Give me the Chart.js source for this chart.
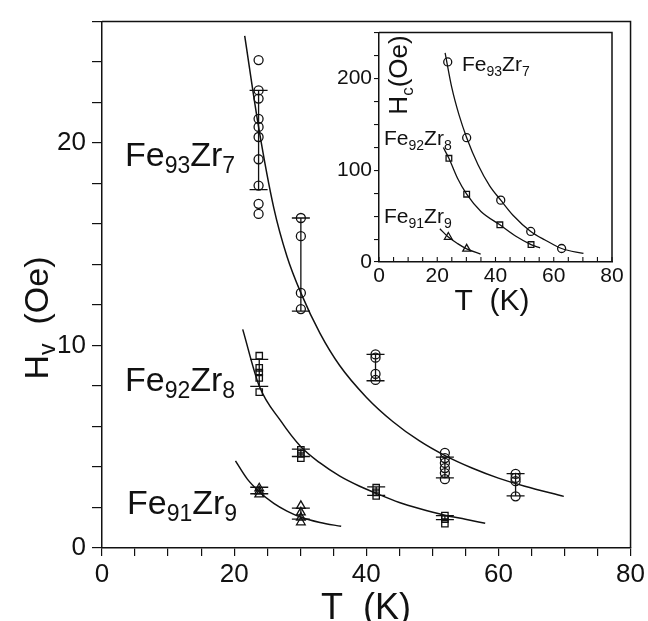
<!DOCTYPE html>
<html><head><meta charset="utf-8">
<script src="https://cdn.jsdelivr.net/npm/chart.js@4/dist/chart.umd.min.js"></script>
<style>
html,body{margin:0;padding:0;background:#fff;}
#wrap{position:relative;width:648px;height:621px;overflow:hidden;}
#main{position:absolute;left:0;top:0;}
#inset{position:absolute;left:330px;top:18px;}
</style></head><body>
<div id="wrap"><canvas id="main" width="648" height="621"></canvas><canvas id="inset" width="310" height="305"></canvas></div>
<script>
// ===== Main panel data: H_v (Oe) vs T (K) =====
const fe93Temps = [23.7, 30.1, 41.4, 51.9, 62.6];
const fe93Hv = [[24.1,22.6,22.2,21.2,20.8,20.3,19.2,17.9,17.0,16.5],[16.3,15.4,12.6,11.8],[9.56,9.4,8.6,8.3],[4.7,4.44,4.2,3.95,3.7,3.4],[3.66,3.46,3.3,2.55]];
const fe93ErrLo = [17.7, 11.7, 8.26, 3.46, 2.57];
const fe93ErrHi = [22.6, 16.3, 9.56, 4.49, 3.67];
const fe93CurveT = [21.6, 23.7, 26, 28, 30.1, 33, 36, 40, 44, 48, 52, 56, 60, 64, 69.9];
const fe93CurveH = [25.3, 20.8, 16.8, 14.4, 12.6, 10.6, 9.0, 7.45, 6.25, 5.3, 4.55, 3.95, 3.45, 3.05, 2.55];

const fe92Temps = [23.8, 30.1, 41.5, 51.9];
const fe92Hv = [[9.5,8.9,8.67,8.4,7.7],[4.85,4.65,4.44],[2.98,2.75,2.57],[1.6,1.43,1.2]];
const fe92ErrLo = [7.98, 4.52, 2.6, 1.4];
const fe92ErrHi = [9.32, 4.88, 3.02, 1.6];
const fe92CurveT = [21.3, 23.8, 27, 30.1, 33, 36, 39, 41.5, 45, 48, 51.9, 55, 58];
const fe92CurveH = [10.8, 8.0, 6.3, 5.0, 4.2, 3.55, 3.05, 2.7, 2.25, 1.95, 1.62, 1.42, 1.22];

const fe91Temps = [23.8, 30.1];
const fe91Hv = [[2.95,2.8,2.65],[2.08,1.76,1.5,1.27]];
const fe91ErrLo = [2.68, 1.43];
const fe91ErrHi = [3.0, 1.97];
const fe91CurveT = [20.2, 22, 23.8, 26, 28, 30.1, 33, 36.2];
const fe91CurveH = [4.3, 3.4, 2.78, 2.2, 1.82, 1.52, 1.26, 1.07];

// ===== Inset data: H_c (Oe) vs T (K) =====
const inFe93T = [23.6, 30.1, 41.8, 52.1, 62.7];
const inFe93Hc = [218, 135.5, 67.4, 33.3, 14.7];
const inFe93CurveT = [22.7, 25, 27.5, 30.1, 34, 38, 41.8, 46, 52.1, 57, 62.7, 70.2];
const inFe93CurveH = [228, 190, 160, 135.5, 106, 83, 67.4, 51, 33.3, 24, 14.7, 9.3];
const inFe92T = [24.0, 30.1, 41.5, 52.2];
const inFe92Hc = [113, 73.9, 40.5, 19.0];
const inFe92CurveT = [22.1, 24.0, 27, 30.1, 35, 41.5, 47, 52.2, 55.3];
const inFe92CurveH = [124.7, 113, 91, 73.9, 55, 40.5, 28, 19.0, 15.4];
const inFe91T = [23.8, 30.1];
const inFe91Hc = [27.2, 14.3];
const inFe91CurveT = [20.9, 23.8, 27, 30.1, 34.9];
const inFe91CurveH = [36.2, 27.2, 20, 14.3, 8.6];

// ===== helpers =====
const FONT = '"Liberation Sans", Arial, sans-serif';
Chart.defaults.font.family = FONT;
Chart.defaults.color = '#111';

function groupPoints(temps, vals) {
  const pts = [];
  temps.forEach((t, i) => vals[i].forEach(v => pts.push({x: t, y: v})));
  return pts;
}
function zipPts(xs, ys) { return xs.map((x, i) => ({x: x, y: ys[i]})); }

function markerDs(data, style, r) {
  return {data: data, showLine: false, pointStyle: style, pointRadius: r, pointHoverRadius: r,
    pointBorderWidth: 1.3, pointBorderColor: '#111', pointBackgroundColor: 'rgba(0,0,0,0)', order: 1};
}
function curveDs(data, w) {
  return {data: data, showLine: true, pointRadius: 0, borderColor: '#111', borderWidth: w,
    cubicInterpolationMode: 'monotone', fill: false, order: 2};
}

function drawRich(ctx, parts, x, y, size, subSize, subDrop) {
  let cx = x;
  parts.forEach(p => {
    const sz = p[1] ? subSize : size;
    ctx.font = sz + 'px ' + FONT;
    ctx.fillText(p[0], cx, y + (p[1] ? subDrop : 0));
    cx += ctx.measureText(p[0]).width;
  });
  return cx - x;
}
function richWidth(ctx, parts, size, subSize) {
  let w = 0;
  parts.forEach(p => { ctx.font = (p[1] ? subSize : size) + 'px ' + FONT; w += ctx.measureText(p[0]).width; });
  return w;
}

const errorBarPlugin = {
  id: 'errbars',
  afterDatasetsDraw(chart, args, opts) {
    if (!opts.groups) return;
    const ctx = chart.ctx, xs = chart.scales.x, ys = chart.scales.y;
    ctx.save();
    ctx.strokeStyle = '#111';
    ctx.lineWidth = 1.3;
    opts.groups.forEach(g => {
      g.temps.forEach((t, i) => {
        const px = xs.getPixelForValue(t);
        const p1 = ys.getPixelForValue(g.lo[i]);
        const p2 = ys.getPixelForValue(g.hi[i]);
        ctx.beginPath();
        ctx.moveTo(px, p1); ctx.lineTo(px, p2);
        ctx.moveTo(px - 9, p1); ctx.lineTo(px + 9, p1);
        ctx.moveTo(px - 9, p2); ctx.lineTo(px + 9, p2);
        ctx.stroke();
      });
    });
    ctx.restore();
  }
};

const frameMain = {
  id: 'frameMain',
  afterDraw(chart) {
    const ctx = chart.ctx, a = chart.chartArea;
    ctx.save();
    ctx.strokeStyle = '#111'; ctx.lineWidth = 1.5;
    ctx.beginPath();
    ctx.moveTo(a.left, a.top); ctx.lineTo(a.right, a.top); ctx.lineTo(a.right, a.bottom);
    ctx.stroke();
    ctx.fillStyle = '#111';
    ctx.textBaseline = 'alphabetic';
    drawRich(ctx, [['Fe',0],['93',1],['Zr',0],['7',1]], 125, 166, 34, 23, 7);
    drawRich(ctx, [['Fe',0],['92',1],['Zr',0],['8',1]], 125, 391, 34, 23, 7);
    drawRich(ctx, [['Fe',0],['91',1],['Zr',0],['9',1]], 127, 514, 34, 23, 7);
    ctx.font = '36px ' + FONT;
    ctx.textAlign = 'center';
    ctx.fillText('T  (K)', 366, 619);
    ctx.textAlign = 'left';
    ctx.translate(48, 318);
    ctx.rotate(-Math.PI / 2);
    const parts = [['H',0],['v',1],['  (Oe)',0]];
    const w = richWidth(ctx, parts, 34, 23);
    drawRich(ctx, parts, -w / 2, 0, 34, 23, 7);
    ctx.restore();
  }
};

new Chart(document.getElementById('main'), {
  type: 'scatter',
  data: {datasets: [
    curveDs(zipPts(fe93CurveT, fe93CurveH), 1.5),
    curveDs(zipPts(fe92CurveT, fe92CurveH), 1.5),
    curveDs(zipPts(fe91CurveT, fe91CurveH), 1.5),
    markerDs(groupPoints(fe93Temps, fe93Hv), 'circle', 4.5),
    markerDs(groupPoints(fe92Temps, fe92Hv), 'rect', 4.5),
    markerDs(groupPoints(fe91Temps, fe91Hv), 'triangle', 5)
  ]},
  options: {
    responsive: false, animation: false, devicePixelRatio: 1,
    layout: {padding: {left: 0, top: 13, right: 16, bottom: 0}},
    plugins: {legend: {display: false}, tooltip: {enabled: false},
      errbars: {groups: [
        {temps: fe93Temps, lo: fe93ErrLo, hi: fe93ErrHi},
        {temps: fe92Temps, lo: fe92ErrLo, hi: fe92ErrHi},
        {temps: fe91Temps, lo: fe91ErrLo, hi: fe91ErrHi}
      ]}},
    scales: {
      x: {type: 'linear', min: 0, max: 80,
        ticks: {stepSize: 5, autoSkip: false, maxRotation: 0, padding: 3, color: '#111',
          font: {size: 26}, callback: v => (v % 20 === 0 ? String(v) : '')},
        grid: {drawOnChartArea: false, drawTicks: true, tickLength: 8, color: '#111', lineWidth: 1.2},
        border: {display: true, color: '#111', width: 1.5},
        afterFit: s => { s.height = 73; }},
      y: {type: 'linear', min: 0, max: 26,
        ticks: {stepSize: 2, autoSkip: false, padding: 6, color: '#111',
          font: {size: 26}, callback: v => (v % 10 === 0 ? String(v) : '')},
        grid: {drawOnChartArea: false, drawTicks: true, tickLength: 10, color: '#111', lineWidth: 1.2},
        border: {display: true, color: '#111', width: 1.5},
        afterFit: s => { s.width = 102; }}
    }
  },
  plugins: [errorBarPlugin, frameMain]
});

const frameInset = {
  id: 'frameInset',
  afterDraw(chart) {
    const ctx = chart.ctx, a = chart.chartArea, xs = chart.scales.x;
    ctx.save();
    ctx.strokeStyle = '#111'; ctx.lineWidth = 1.5;
    ctx.beginPath();
    ctx.moveTo(a.left, a.top); ctx.lineTo(a.right, a.top); ctx.lineTo(a.right, a.bottom);
    ctx.stroke();
    ctx.lineWidth = 1.1;
    ctx.beginPath();
    xs.ticks.forEach(t => {
      const px = xs.getPixelForValue(t.value);
      ctx.moveTo(px, a.bottom); ctx.lineTo(px, a.bottom - 5);
    });
    ctx.stroke();
    ctx.fillStyle = '#111';
    ctx.textBaseline = 'alphabetic';
    drawRich(ctx, [['Fe',0],['93',1],['Zr',0],['7',1]], 132, 53, 21, 14, 5);
    drawRich(ctx, [['Fe',0],['92',1],['Zr',0],['8',1]], 54, 127, 21, 14, 5);
    drawRich(ctx, [['Fe',0],['91',1],['Zr',0],['9',1]], 54, 205, 21, 14, 5);
    ctx.font = '30px ' + FONT;
    ctx.textAlign = 'center';
    ctx.fillText('T  (K)', 162, 292);
    ctx.textAlign = 'left';
    ctx.translate(77, 57);
    ctx.rotate(-Math.PI / 2);
    const parts = [['H',0],['c',1],['(Oe)',0]];
    const w = richWidth(ctx, parts, 26, 17);
    drawRich(ctx, parts, -w / 2, 0, 26, 17, 6);
    ctx.restore();
  }
};

new Chart(document.getElementById('inset'), {
  type: 'scatter',
  data: {datasets: [
    curveDs(zipPts(inFe93CurveT, inFe93CurveH), 1.3),
    curveDs(zipPts(inFe92CurveT, inFe92CurveH), 1.3),
    curveDs(zipPts(inFe91CurveT, inFe91CurveH), 1.3),
    markerDs(zipPts(inFe93T, inFe93Hc), 'circle', 4),
    markerDs(zipPts(inFe92T, inFe92Hc), 'rect', 4),
    markerDs(zipPts(inFe91T, inFe91Hc), 'triangle', 4.5)
  ]},
  options: {
    responsive: false, animation: false, devicePixelRatio: 1,
    layout: {padding: {left: 0, top: 12, right: 28, bottom: 0}},
    plugins: {legend: {display: false}, tooltip: {enabled: false}},
    scales: {
      x: {type: 'linear', min: 0, max: 80,
        ticks: {stepSize: 5, autoSkip: false, maxRotation: 0, padding: 2, color: '#111',
          font: {size: 21}, callback: v => (v % 20 === 0 ? String(v) : '')},
        grid: {drawOnChartArea: false, drawTicks: false, tickLength: 0},
        border: {display: true, color: '#111', width: 1.5},
        afterFit: s => { s.height = 61; }},
      y: {type: 'linear', min: 0, max: 250,
        ticks: {stepSize: 25, autoSkip: false, padding: 2, color: '#111',
          font: {size: 21}, callback: v => (v % 100 === 0 ? String(v) : '')},
        grid: {drawOnChartArea: false, drawTicks: true, tickLength: 5, color: '#111', lineWidth: 1.1},
        border: {display: true, color: '#111', width: 1.5},
        afterFit: s => { s.width = 49; }}
    }
  },
  plugins: [frameInset]
});
</script>
</body></html>
